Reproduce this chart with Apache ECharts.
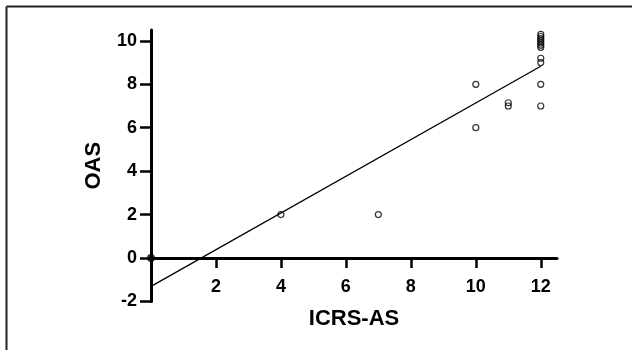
<!DOCTYPE html>
<html lang="en">
<head>
    <meta charset="utf-8">
    <title>OAS vs ICRS-AS</title>
    <script src="https://cdn.jsdelivr.net/npm/echarts@6/dist/echarts.min.js"></script>
</head>
<body style="margin:0; background:#fff;">
<div id="main" style="width: 632px; height: 350px;"></div>
<script type="text/javascript">
    // data
    const icrsAS = [4, 7, 10, 10, 11, 11, 12, 12, 12, 12, 12, 12, 12, 12, 12, 12, 12];
    const oas    = [2, 2, 8, 6, 7, 7.15, 7, 8, 9, 9.2, 9.7, 9.8, 9.9, 10, 10.1, 10.2, 10.3];
    const originPoint = [[0, 0]];
    const fitLine = [[0, -1.31], [12, 8.83]];
    const xTicks = [2, 4, 6, 8, 10, 12];
    const yTicks = [-2, 0, 2, 4, 6, 8, 10];

    const points = icrsAS.map((x, i) => [x, oas[i]]);
    const fontFam = '"Liberation Sans", Arial, sans-serif';

    const myChart = echarts.init(document.getElementById('main'));
    const option = {
        animation: false,
        grid: {left: 151, right: 75, top: 30, bottom: 48.6, outerBoundsMode: 'none', containLabel: false},
        graphic: [
            {type: 'line', shape: {x1: 6.5, y1: 6.5, x2: 632, y2: 6.5}, style: {stroke: '#222', lineWidth: 2}},
            {type: 'line', shape: {x1: 6.5, y1: 6.5, x2: 6.5, y2: 350}, style: {stroke: '#222', lineWidth: 2}}
        ],
        xAxis: {
            type: 'value',
            min: 0, max: 12.5,
            name: 'ICRS-AS',
            nameLocation: 'middle',
            nameGap: 7,
            nameTextStyle: {fontFamily: fontFam, fontWeight: 'bold', fontSize: 22, color: '#000'},
            axisLine: {onZero: true, lineStyle: {color: '#000', width: 3}},
            axisTick: {length: 10, customValues: xTicks, lineStyle: {color: '#000', width: 2.5}},
            axisLabel: {customValues: xTicks, margin: -23, fontFamily: fontFam, fontWeight: 'bold', fontSize: 18, color: '#000'},
            splitLine: {show: false}
        },
        yAxis: {
            type: 'value',
            min: -2, max: 10.5,
            name: 'OAS',
            nameLocation: 'middle',
            nameGap: 46,
            nameTextStyle: {fontFamily: fontFam, fontWeight: 'bold', fontSize: 22, color: '#000'},
            axisLine: {onZero: true, lineStyle: {color: '#000', width: 3}},
            axisTick: {length: 11, customValues: yTicks, lineStyle: {color: '#000', width: 2.5}},
            axisLabel: {customValues: yTicks, margin: 14, fontFamily: fontFam, fontWeight: 'bold', fontSize: 18, color: '#000'},
            splitLine: {show: false}
        },
        series: [
            {
                type: 'line',
                data: fitLine,
                symbol: 'none',
                lineStyle: {color: '#000', width: 1.3},
                z: 3
            },
            {
                type: 'scatter',
                data: points,
                symbol: 'circle',
                symbolSize: 6,
                itemStyle: {color: 'rgba(0,0,0,0)', borderColor: '#000', borderWidth: 1.2},
                z: 4
            },
            {
                type: 'scatter',
                data: originPoint,
                symbol: 'circle',
                symbolSize: 8,
                itemStyle: {color: '#000'},
                z: 5
            }
        ]
    };
    myChart.setOption(option);
</script>
</body>
</html>
